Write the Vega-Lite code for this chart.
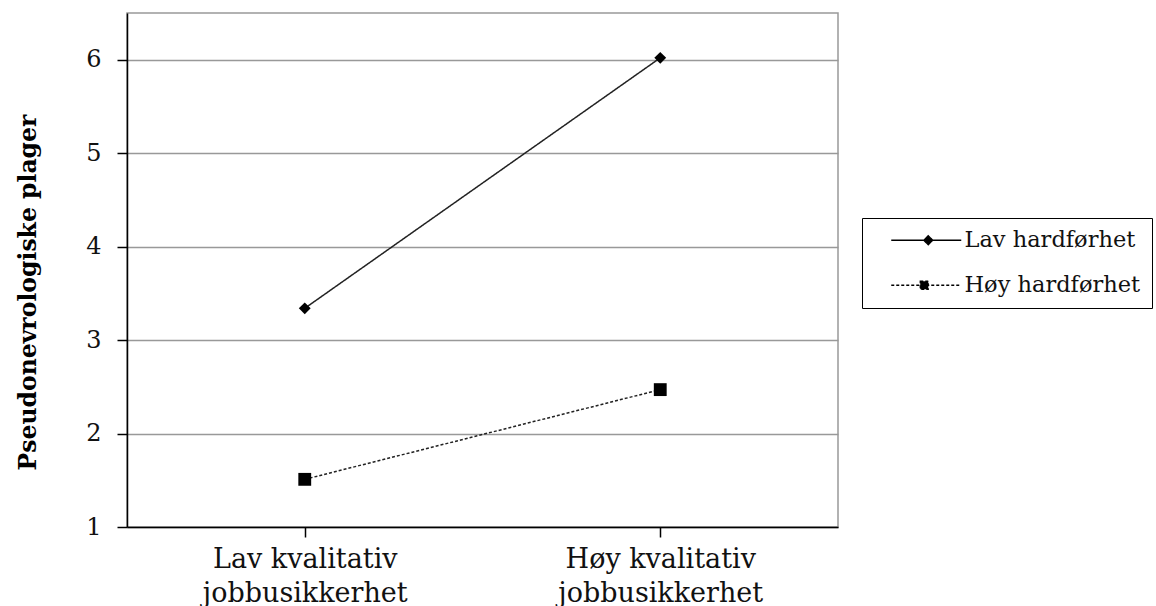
{
  "$schema": "https://vega.github.io/schema/vega-lite/v6.json",
  "autosize": "none",
  "width": 711,
  "height": 514,
  "padding": {"left": 127, "top": 13, "right": 318, "bottom": 79},
  "background": "white",
  "config": {
    "font": "DejaVu Serif",
    "view": {"stroke": "#999999", "strokeWidth": 1.5}
  },
  "data": {
    "values": [
      {"betingelse": "Lav kvalitativ jobbusikkerhet", "gruppe": "Lav hardførhet", "plager": 3.34},
      {"betingelse": "Høy kvalitativ jobbusikkerhet", "gruppe": "Lav hardførhet", "plager": 6.02},
      {"betingelse": "Lav kvalitativ jobbusikkerhet", "gruppe": "Høy hardførhet", "plager": 1.51},
      {"betingelse": "Høy kvalitativ jobbusikkerhet", "gruppe": "Høy hardførhet", "plager": 2.47}
    ]
  },
  "encoding": {
    "x": {
      "field": "betingelse",
      "type": "nominal",
      "sort": ["Lav kvalitativ jobbusikkerhet", "Høy kvalitativ jobbusikkerhet"],
      "scale": {"paddingInner": 0, "paddingOuter": 0},
      "axis": {
        "title": null,
        "labelAngle": 0,
        "labelExpr": "[slice(datum.label, 0, indexof(datum.label, ' jobb')), 'jobbusikkerhet']",
        "labelFontSize": 27,
        "labelColor": "#111111",
        "labelLineHeight": 34,
        "labelPadding": 30,
        "labelBaseline": "alphabetic",
        "labelOverlap": false,
        "labelLimit": 0,
        "domainColor": "black",
        "domainWidth": 1.5,
        "tickColor": "black",
        "tickWidth": 1.5,
        "tickSize": 10,
        "bandPosition": 0,
        "grid": false
      }
    },
    "y": {
      "field": "plager",
      "type": "quantitative",
      "scale": {"domain": [1, 6.5], "nice": false, "zero": false},
      "axis": {
        "title": "Pseudonevrologiske plager",
        "titleFont": "DejaVu Serif",
        "titleFontSize": 23.5,
        "titleFontWeight": "bold",
        "titleColor": "black",
        "titleX": -99,
        "titleY": 279,
        "titleBaseline": "middle",
        "titleAlign": "center",
        "titleAngle": -90,
        "titleLimit": 0,
        "values": [1, 2, 3, 4, 5, 6],
        "labelFontSize": 24,
        "labelColor": "#111111",
        "labelPadding": 16,
        "domainColor": "black",
        "domainWidth": 1.5,
        "tickColor": "black",
        "tickWidth": 1.5,
        "tickSize": 10,
        "grid": true,
        "gridColor": "#999999",
        "gridWidth": 1.5
      }
    }
  },
  "layer": [
    {
      "mark": {"type": "line", "color": "#222222", "strokeWidth": 1.5},
      "encoding": {
        "strokeDash": {
          "field": "gruppe",
          "type": "nominal",
          "sort": ["Lav hardførhet", "Høy hardførhet"],
          "scale": {"domain": ["Lav hardførhet", "Høy hardførhet"], "range": [[1, 0], [3, 2]]},
          "legend": {
            "title": null,
            "orient": "none",
            "legendX": 735,
            "legendY": 205,
            "padding": 11,
            "strokeColor": "black",
            "fillColor": "white",
            "labelFontSize": 22.5,
            "labelColor": "#111111",
            "labelOffset": 69,
            "labelLimit": 0,
            "rowPadding": 22,
            "symbolSize": 100,
            "symbolStrokeWidth": 1.3,
            "symbolStrokeColor": "black",
            "symbolFillColor": "black",
            "encode": {
              "symbols": {
                "update": {
                  "shape": {"signal": "datum.value == 'Lav hardførhet' ? 'M1.4,0H15.4M8.8,-0.9L9.7,0L8.8,0.9L7.9,0Z' : 'M1.4,0H15.4M7.2,-0.8H8.8V0.8H7.2Z'"},
                  "fill": {"value": "black"},
                  "stroke": {"value": "black"}
                }
              }
            }
          }
        }
      }
    },
    {
      "transform": [{"filter": "datum.gruppe == 'Lav hardførhet'"}],
      "mark": {"type": "point", "shape": "diamond", "filled": true, "color": "black", "opacity": 1, "size": 140}
    },
    {
      "transform": [{"filter": "datum.gruppe == 'Høy hardførhet'"}],
      "mark": {"type": "point", "shape": "square", "filled": true, "color": "black", "opacity": 1, "size": 165}
    }
  ]
}
